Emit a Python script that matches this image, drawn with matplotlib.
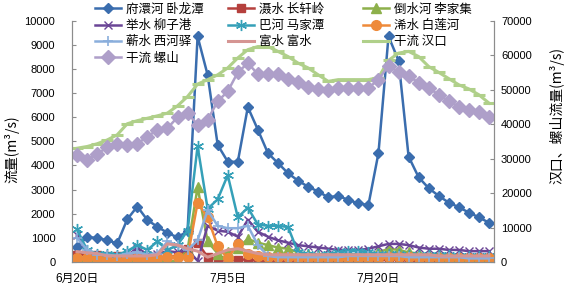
import matplotlib
matplotlib.use('Agg')
import matplotlib.pyplot as plt
import numpy as np

plt.rcParams['font.family'] = ['Liberation Sans', 'Noto Sans CJK SC']

# ---------------- data ----------------
tick_labels = ['6月20日', '7月5日', '7月20日']
tick_pos = [0, 15, 30]

fuhuan = [640, 1030, 1000, 900, 770, 1770, 2300, 1740, 1460, 1210,
          1020, 1280, 9350, 7750, 4850, 4160, 4150, 6420, 5480, 4510,
          4100, 3680, 3370, 3120, 2920, 2680, 2740, 2570, 2430, 2360,
          4510, 9350, 8350, 4370, 3510, 3060, 2740, 2460, 2270, 2050,
          1850, 1630]
shexi = [300, 300, 300, 250, 250, 250, 250, 200, 200, 200,
         250, 550, 800, 200, 100, 50, 100, 100, 50, 50,
         50, 50, 50, 50, 50, 50, 50, 50, 50, 50,
         50, 100, 100, 50, 50, 50, 50, 50, 50, 50,
         50, 50]
daoshui = [30, 30, 30, 30, 30, 30, 30, 30, 30, 30,
           30, 500, 3100, 850, 350, 400, 600, 950, 800, 700,
           600, 550, 400, 350, 300, 300, 300, 300, 300, 350,
           400, 550, 500, 400, 350, 300, 300, 250, 250, 250,
           250, 250]
jushui = [1100, 400, 250, 250, 200, 250, 600, 300, 350, 450,
          400, 500, 50, 1500, 1300, 1250, 1050, 1750, 1250, 1050,
          900, 800, 700, 650, 600, 550, 500, 500, 500, 550,
          650, 750, 750, 700, 600, 550, 550, 500, 500, 450,
          450, 450]
bahe = [1350, 500, 350, 350, 300, 450, 700, 500, 850, 500,
        700, 1300, 4800, 2200, 2600, 3600, 1850, 2250, 1550, 1500,
        1500, 1450, 400, 350, 300, 350, 400, 450, 450, 400,
        350, 350, 350, 300, 300, 300, 300, 300, 250, 250,
        250, 250]
xishui = [150, 150, 150, 100, 50, 150, 150, 100, 150, 200,
          200, 200, 2450, 1850, 650, 150, 750, 350, 250, 200,
          200, 200, 150, 150, 150, 150, 150, 150, 150, 150,
          150, 200, 200, 200, 150, 150, 150, 150, 150, 150,
          150, 150]
qishui = [1000, 500, 300, 300, 250, 350, 400, 300, 350, 850,
          700, 500, 900, 2150, 1500, 1400, 1400, 1500, 700, 250,
          200, 200, 200, 200, 200, 200, 200, 250, 250, 250,
          250, 250, 250, 200, 200, 200, 200, 200, 200, 150,
          150, 150]
fushui = [430, 380, 350, 250, 250, 250, 250, 250, 300, 750,
          700, 550, 450, 200, 350, 500, 550, 450, 350, 300,
          300, 300, 300, 300, 300, 300, 300, 300, 300, 300,
          300, 300, 300, 300, 300, 300, 250, 250, 250, 250,
          250, 250]
hankou = [33000, 33500, 34300, 35400, 36900, 40100, 41000, 41700, 42400, 43200,
          45300, 48000, 51600, 52900, 54300, 56300, 59200, 61600, 62500, 62500,
          61100, 59600, 57700, 56300, 54300, 52400, 52900, 52900, 52900, 52900,
          53500, 58500, 60600, 61100, 59600, 56700, 55000, 53200, 51400, 50200,
          48500, 46100]
luoshan = [31100, 29600, 31300, 33300, 34300, 34000, 34300, 36400, 38300, 38800,
           42000, 43200, 39800, 41300, 46600, 49500, 55000, 57700, 54500, 54500,
           54500, 53200, 52200, 50700, 50200, 50000, 50500, 50500, 50500, 50500,
           52900, 57000, 55000, 54000, 52000, 50500, 48500, 46600, 45100, 44000,
           43400, 42200]

x = np.arange(len(fuhuan))

# ---------------- figure ----------------
fig = plt.figure(figsize=(5.67, 2.85), dpi=100)
ax = fig.add_axes([72/567, 23/285, 422/567, 241.3/285])
ax2 = ax.twinx()

l_fu, = ax.plot(x, fuhuan, color='#3A6DAE', lw=1.8, marker='D', ms=5.5, label='府澴河 卧龙潭', zorder=3)
l_she, = ax.plot(x, shexi, color='#B5403D', lw=1.8, marker='s', ms=6, label='滠水 长轩岭', zorder=3)
l_dao, = ax.plot(x, daoshui, color='#8DB04B', lw=1.8, marker='^', ms=6.5, label='倒水河 李家集', zorder=3)
l_ju, = ax.plot(x, jushui, color='#6A4596', lw=1.8, marker='x', ms=6, mew=1.0, label='举水 柳子港', zorder=3)
l_ba, = ax.plot(x, bahe, color='#35A0B8', lw=1.8, marker=(6, 2, 0), ms=8, mew=1.0, label='巴河 马家潭', zorder=3)
l_xi, = ax.plot(x, xishui, color='#EE8A3A', lw=1.8, marker='o', ms=7, label='浠水 白莲河', zorder=3)
l_qi, = ax.plot(x, qishui, color='#8AAEDC', lw=1.8, marker='+', ms=7, mew=1.2, label='蕲水 西河驿', zorder=3)
l_fs, = ax.plot(x, fushui, color='#D59593', lw=2.2, label='富水 富水', zorder=3)

l_hk, = ax2.plot(x, hankou, color='#B0D08A', lw=2.2, marker='_', ms=8, mew=2.2, label='干流 汉口')
l_ls, = ax2.plot(x, luoshan, color='#AE9FC9', lw=1.8, marker='D', ms=7, label='干流 螺山')

ax.set_xlim(-0.5, len(x) - 0.5)
ax.set_ylim(0, 10000)
ax2.set_ylim(0, 70000)
ax.set_yticks(np.arange(0, 10001, 1000))
ax2.set_yticks(np.arange(0, 70001, 10000))
ax.set_xticks(tick_pos)
ax.set_xticklabels(tick_labels)

gray = '#8C8C8C'
for a in (ax, ax2):
    a.spines['top'].set_visible(False)
    for s in ('left', 'right', 'bottom'):
        a.spines[s].set_color(gray)
        a.spines[s].set_linewidth(0.8)
ax.tick_params(axis='y', direction='in', length=3, width=0.8, color=gray, pad=12, labelsize=8)
ax2.tick_params(axis='y', direction='in', length=3, width=0.8, color=gray, pad=5, labelsize=8)
ax.tick_params(axis='x', length=0, pad=8, labelsize=8.5)

fig.text(12/567, 1 - 149/285, '流量(m³/s)', rotation=90, ha='center', va='center',
         fontsize=10, family=['Noto Sans CJK SC', 'DejaVu Sans'])
fig.text(557/567, 1 - 116/285, '汉口、螺山流量(m³/s)', rotation=90, ha='center', va='center',
         fontsize=10, family=['Noto Sans CJK SC', 'DejaVu Sans'])

columns = [([l_fu, l_ju, l_qi, l_ls], 95),
           ([l_she, l_ba, l_fs], 228),
           ([l_dao, l_xi, l_hk], 363)]
for hs, xpix in columns:
    lg = fig.legend(hs, [h.get_label() for h in hs], ncol=1, loc='upper left',
                    bbox_to_anchor=(xpix/567, 1 - 2.5/285), frameon=False,
                    prop={'family': ['Noto Sans CJK SC', 'DejaVu Sans'], 'size': 9},
                    handlelength=2.1, handletextpad=0.4,
                    labelspacing=0.27, borderpad=0.0, borderaxespad=0.0)

fig.savefig('out.png', dpi=100)
